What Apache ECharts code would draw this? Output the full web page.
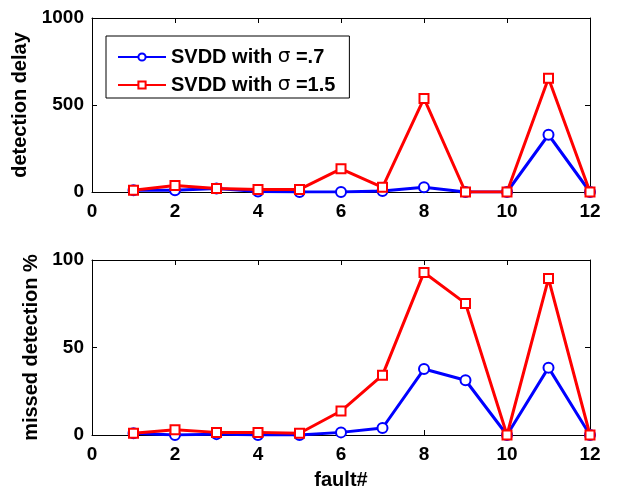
<!DOCTYPE html>
<html><head><meta charset="utf-8">
<script src="https://cdn.jsdelivr.net/npm/echarts@6/dist/echarts.min.js"></script>
<style>html,body{margin:0;padding:0;background:#fff}#c{width:634px;height:491px}</style>
</head><body><div id="c"></div>
<script>
const faults = [1,2,3,4,5,6,7,8,9,10,11,12];
const delaySigma07 = [10,10,20,3,0,0,6,27,0,0,329,0];
const delaySigma15 = [10,37,20,15,15,133,27,538,0,0,654,0];
const missedSigma07 = [1,0,0.5,0,0,1.5,4,37.7,31.3,0,38.5,0];
const missedSigma15 = [1,3,1.5,1.5,1,13.7,34.2,92.9,75.2,0,89.4,0];
const xTicks = [0,2,4,6,8,10,12];
const name07 = 'SVDD with σ =.7';
const name15 = 'SVDD with σ =1.5';

const font = 'Liberation Sans, Arial, sans-serif';
const zip = (xs, ys) => xs.map((x,i)=>[x, ys[i]]);
const lbl = {color:'#000', fontFamily:font, fontWeight:'bold', fontSize:19};
const nm = {color:'#000', fontFamily:font, fontWeight:'bold', fontSize:20};
function xAxis(grid, pos, show, name){
  return {type:'value', gridIndex:grid, position:pos, min:xTicks[0], max:xTicks[xTicks.length-1], interval:2,
    axisLine:{show:true, onZero:false, lineStyle:{color:'#000', width:1}},
    axisTick:{show:true, inside:true, length:5, lineStyle:{color:'#000'}},
    axisLabel:{show:show, margin:10, formatter:v=>String(v), ...lbl},
    splitLine:{show:false},
    name: name||'', nameLocation:'middle', nameGap:35, nameTextStyle:{...nm}};
}
function yAxis(grid, pos, show, max, interval, name, gap){
  return {type:'value', gridIndex:grid, position:pos, min:0, max:max, interval:interval,
    axisLine:{show:true, onZero:false, lineStyle:{color:'#000', width:1}},
    axisTick:{show:true, inside:true, length:5, lineStyle:{color:'#000'}},
    axisLabel:{show:show, margin:8, formatter:v=>String(v), ...lbl},
    splitLine:{show:false},
    name: name||'', nameLocation:'middle', nameGap:gap||0, nameTextStyle:{...nm}};
}
function ser(name, data, xi, yi, color, symbol){
  return {name:name, type:'line', xAxisIndex:xi, yAxisIndex:yi, data:data,
    symbol:symbol, symbolSize:symbol==='circle'?10:9, showSymbol:true,
    lineStyle:{color:color, width:3}, itemStyle:{color:'#fff', borderColor:color, borderWidth:2},
    emphasis:{disabled:true}, animation:false, z: color==='#ff0000'?3:2};
}
const chart = echarts.init(document.getElementById('c'));
chart.setOption({
  backgroundColor:'#fff',
  animation:false,
  grid:[{left:92, right:44, top:18, height:174}, {left:92, right:44, top:260, height:175}],
  xAxis:[xAxis(0,'bottom',true), xAxis(0,'top',false), xAxis(1,'bottom',true,'fault#'), xAxis(1,'top',false)],
  yAxis:[yAxis(0,'left',true,1000,500,'detection delay',55), yAxis(0,'right',false,1000,500),
         yAxis(1,'left',true,100,50,'missed detection %',43), yAxis(1,'right',false,100,50)],
  legend:{show:true, left:106, top:36, orient:'vertical',
    padding:[11,14,3,11], itemGap:8, itemWidth:48, itemHeight:9,
    borderColor:'#000', borderWidth:1, backgroundColor:'#fff',
    formatter: n => {
      const i = n.indexOf('σ');
      return '{b|' + n.slice(0,i) + '}{s|σ}{b|' + n.slice(i+1) + '}';
    },
    textStyle:{...nm, rich:{b:{...nm}, s:{...nm, fontWeight:'normal', fontFamily:'DejaVu Sans, sans-serif'}}},
    data:[name07, name15]},
  series:[
    ser(name07, zip(faults, delaySigma07), 0, 0, '#0000ff', 'circle'),
    ser(name15, zip(faults, delaySigma15), 0, 0, '#ff0000', 'rect'),
    ser(name07, zip(faults, missedSigma07), 2, 2, '#0000ff', 'circle'),
    ser(name15, zip(faults, missedSigma15), 2, 2, '#ff0000', 'rect')
  ]
});
</script></body></html>
